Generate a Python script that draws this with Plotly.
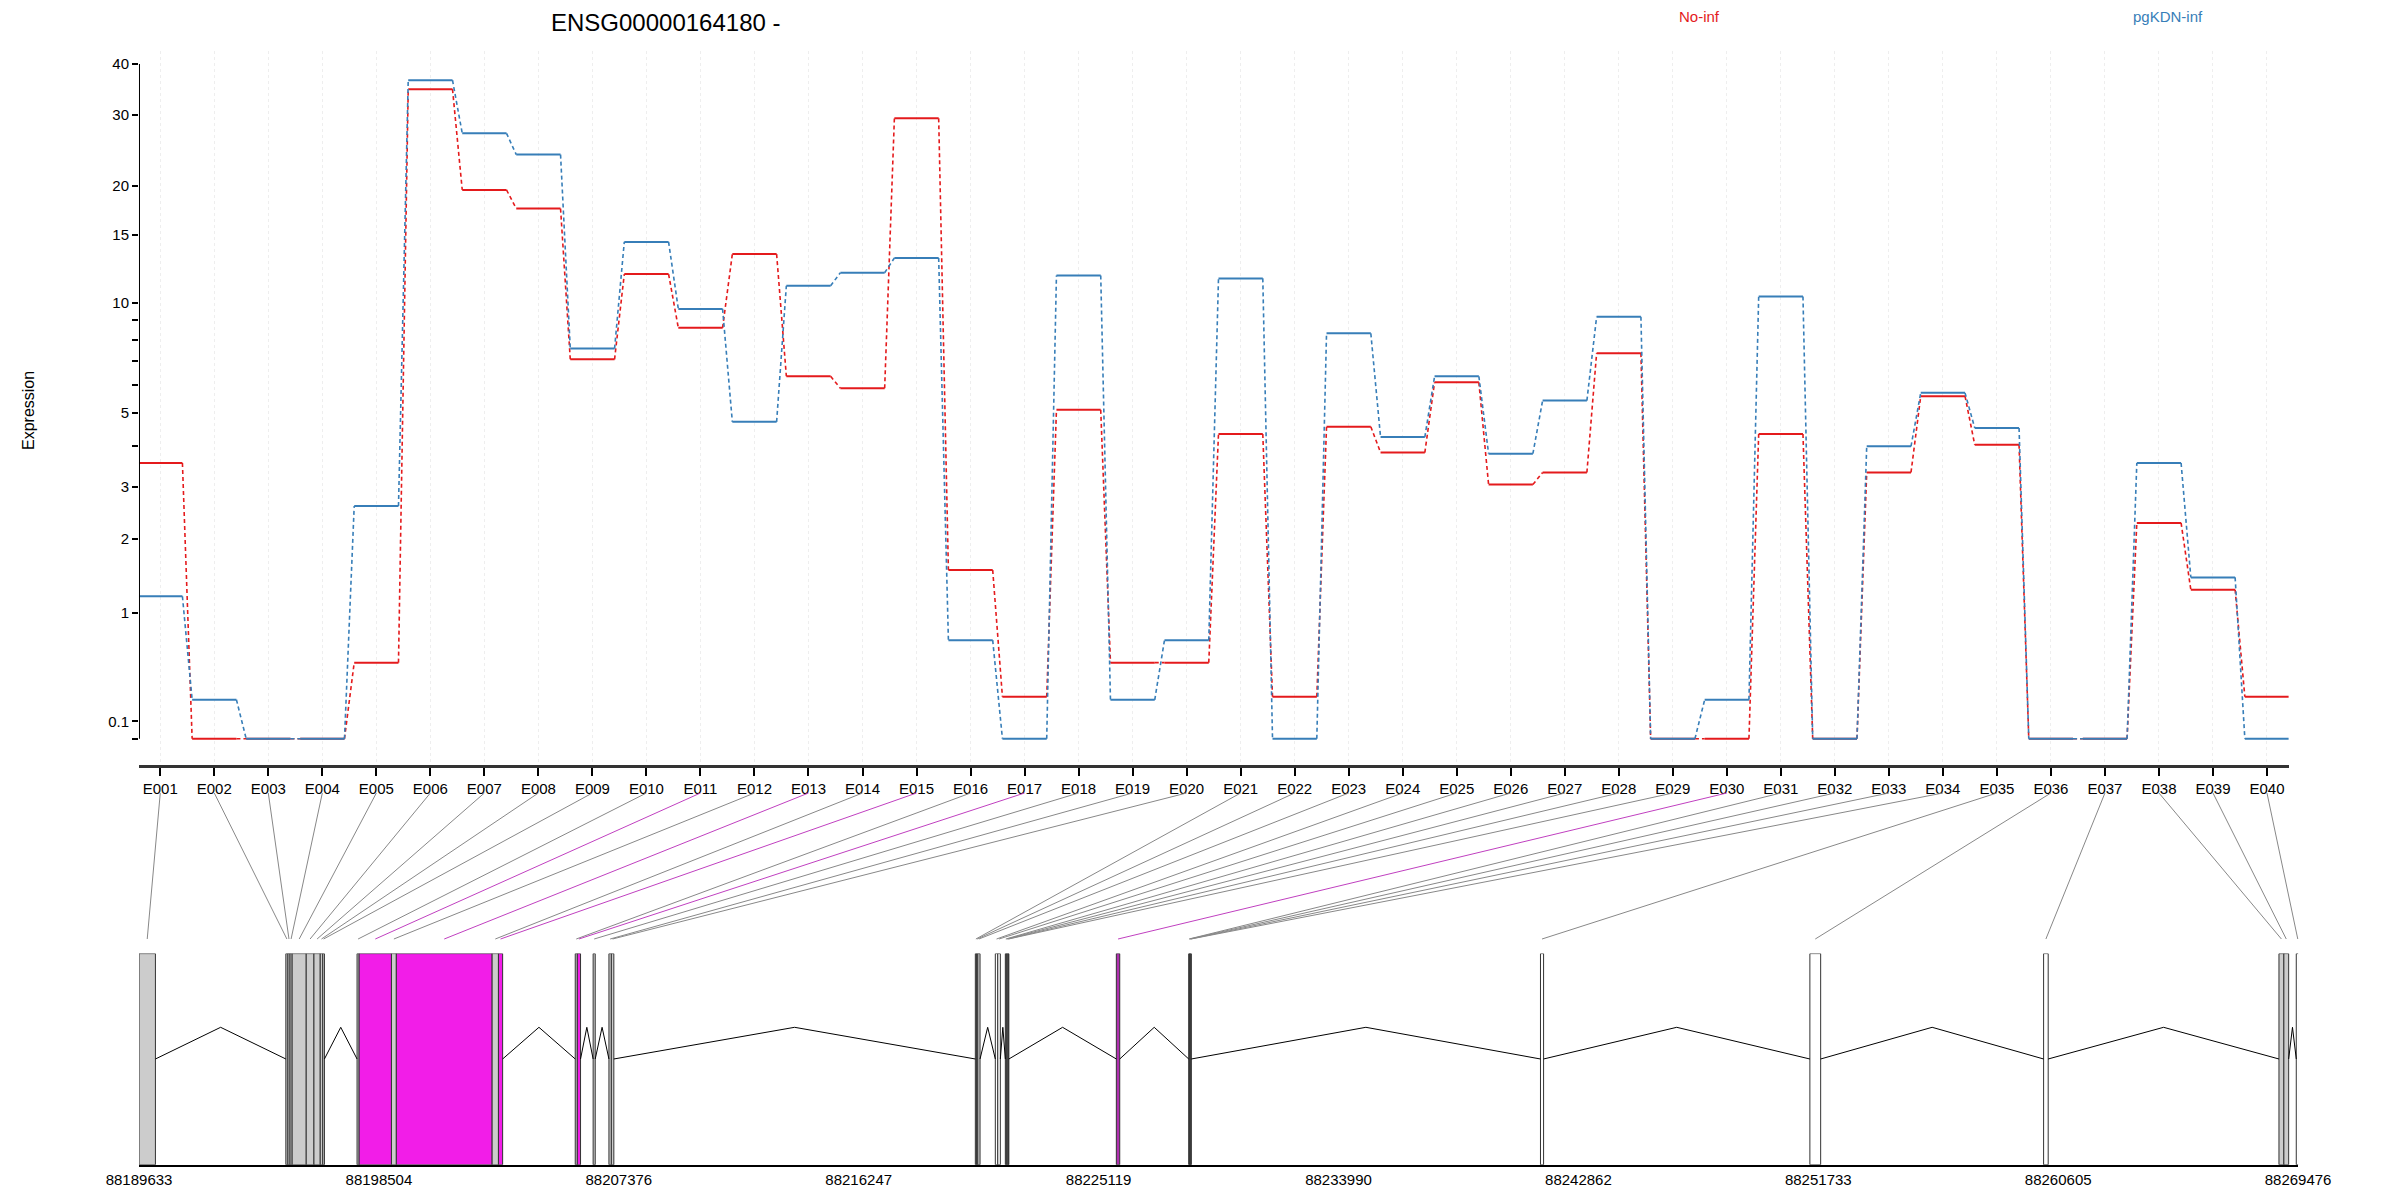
import numpy as np
import plotly.graph_objects as go

exons = [f"E{i:03d}" for i in range(1, 41)]
no_inf = [3.56, 0.0, 0.0, 0.0, 0.52, 34.7, 19.5, 17.5, 7.07, 11.9,
          8.6, 13.4, 6.35, 5.88, 29.4, 1.53, 0.26, 5.11, 0.52, 0.52,
          4.35, 0.26, 4.57, 3.83, 6.11, 3.05, 3.33, 7.35, 0.0, 0.0,
          4.35, 0.0, 3.33, 5.59, 4.04, 0.0, 0.0, 2.28, 1.27, 0.26]
pgkdn_inf = [1.19, 0.239, 0.0, 0.0, 2.60, 36.5, 27.0, 23.9, 7.56, 14.4,
             9.65, 4.72, 11.1, 12.0, 13.1, 0.72, 0.0, 11.8, 0.239, 0.72,
             11.6, 0.0, 8.31, 4.26, 6.35, 3.80, 5.43, 9.2, 0.0, 0.239,
             10.4, 0.0, 4.0, 5.71, 4.53, 0.0, 0.0, 3.56, 1.43, 0.0]
exon_start = [88189633, 88195062, 88195139, 88195217, 88195295, 88195816, 88196101, 88196334, 88196426, 88197695,
              88197772, 88198967, 88199148, 88202691, 88202924, 88205764, 88205841, 88206426, 88207010, 88207100,
              88220560, 88220600, 88220650, 88221299, 88221390, 88221669, 88221705, 88221740, 88221780, 88225774,
              88228451, 88228475, 88228500, 88228525, 88241459, 88251422, 88260065, 88268769, 88268950, 88269409]
exon_end = [88190239, 88195139, 88195217, 88195295, 88195816, 88196101, 88196334, 88196426, 88196489, 88197772,
            88198967, 88199148, 88202691, 88202924, 88203079, 88205841, 88205960, 88206503, 88207100, 88207191,
            88220600, 88220650, 88220734, 88221390, 88221484, 88221705, 88221740, 88221780, 88221800, 88225900,
            88228475, 88228500, 88228525, 88228547, 88241574, 88251821, 88260235, 88268950, 88269128, 88269520]
exon_fill = ["#CCCCCC"] * 40
for i in [10, 12, 14, 16]:
    exon_fill[i] = "#F21DE8"
exon_fill[29] = "#B030B0"
for i in [23, 24, 34, 35, 36, 39]:
    exon_fill[i] = "#FFFFFF"
gene_ticks = [88189633, 88198504, 88207376, 88216247, 88225119, 88233990, 88242862, 88251733, 88260605, 88269476]
y_ticks = [0, 0.1, 1, 2, 3, 4, 5, 6, 7, 8, 9, 10, 15, 20, 30, 40]
y_ticktext = ["", "0.1", "1", "2", "3", "", "5", "", "", "", "", "10", "15", "20", "30", "40"]
series = [("No-inf", no_inf, "#E41A1C"), ("pgKDN-inf", pgkdn_inf, "#377EB8")]

W, H = 2400, 1200
XD = [0.05458, 0.95025]
XR = [0.606, 40.4]
GX = [0.0546, 0.9542]
GR = [gene_ticks[0], gene_ticks[-1]]

fig = go.Figure()
idx = np.arange(1, 41)
hw = 0.41
for name, vals, col in series:
    t = np.log10(np.array(vals) + 1)
    sx, sy, dx, dy = [], [], [], []
    for k in range(40):
        sx += [idx[k] - hw, idx[k] + hw, None]
        sy += [t[k], t[k], None]
        if k < 39:
            dx += [idx[k] + hw, idx[k + 1] - hw, None]
            dy += [t[k], t[k + 1], None]
    fig.add_trace(go.Scatter(x=dx, y=dy, mode="lines", line=dict(color=col, width=1.6, dash="4px,3px"),
                             showlegend=False, hoverinfo="skip"))
    fig.add_trace(go.Scatter(x=sx, y=sy, mode="lines", line=dict(color=col, width=2),
                             showlegend=False, hoverinfo="skip"))

shapes = []
for k in range(40):
    shapes.append(dict(type="rect", xref="x2", yref="y2", x0=exon_start[k], x1=exon_end[k], y0=0, y1=1,
                       fillcolor=exon_fill[k], line=dict(color="#333333", width=1)))
for k in range(39):
    a, b = exon_end[k], exon_start[k + 1]
    if b > a:
        m = (a + b) / 2
        shapes.append(dict(type="path", xref="x2", yref="y2",
                           path=f"M {a},0.501 L {m},0.651 L {b},0.501", line=dict(color="black", width=1)))
for k in range(40):
    xt = XD[0] + (idx[k] - XR[0]) / (XR[1] - XR[0]) * (XD[1] - XD[0])
    gm = (exon_start[k] + exon_end[k]) / 2
    xb = GX[0] + (gm - GR[0]) / (GR[1] - GR[0]) * (GX[1] - GX[0])
    col = "#C040C0" if exon_fill[k] in ("#F21DE8", "#B030B0") else "#888888"
    shapes.append(dict(type="line", xref="paper", yref="paper", x0=xt, y0=1 - 785 / H, x1=xb, y1=1 - 931 / H,
                       line=dict(color=col, width=1)))
shapes.append(dict(type="line", xref="x", yref="y", x0=XR[0], x1=XR[0], y0=0, y1=np.log10(41),
                   line=dict(color="black", width=2)))
fig.update_layout(shapes=shapes)

fig.update_layout(
    width=W, height=H, margin=dict(l=0, r=0, t=0, b=0, autoexpand=False),
    plot_bgcolor="white", paper_bgcolor="white",
    font=dict(family="Liberation Sans, Arial", size=16, color="black"),
    xaxis=dict(domain=XD, range=XR, tickvals=list(idx), ticktext=exons, showgrid=True, automargin=False,
               gridcolor="#EEEEEE", griddash="dot", gridwidth=1, zeroline=False,
               showline=True, linecolor="#333333", linewidth=3, ticks="outside", ticklen=8,
               tickwidth=2, tickcolor="black", tickfont=dict(size=15)),
    yaxis=dict(domain=[0.3694, 0.9642], range=[-0.0622, 1.644], tickvals=list(np.log10(np.array(y_ticks) + 1)),
               ticktext=y_ticktext, showgrid=False, zeroline=False, showline=False, automargin=False,
               ticks="outside", ticklen=6, tickwidth=2, tickcolor="black", tickfont=dict(size=15)),
    xaxis2=dict(domain=GX, range=GR, anchor="y2", tickvals=gene_ticks, ticktext=[str(v) for v in gene_ticks],
                showgrid=False, zeroline=False, showline=True, linecolor="black", linewidth=2, automargin=False,
                ticks="", tickfont=dict(size=15)),
    yaxis2=dict(domain=[0.036, 0.212], range=[0, 1], anchor="x2", visible=False, automargin=False),
)
fig.add_annotation(text="ENSG00000164180 -", xref="paper", yref="paper", x=658 / W, y=1 - 15 / H,
                   showarrow=False, font=dict(size=24), xanchor="center", yanchor="middle")
fig.add_annotation(text="No-inf", xref="paper", yref="paper", x=1691 / W, y=1 - 9 / H,
                   showarrow=False, font=dict(size=15, color="#E41A1C"), xanchor="center", yanchor="middle")
fig.add_annotation(text="pgKDN-inf", xref="paper", yref="paper", x=2160 / W, y=1 - 9 / H,
                   showarrow=False, font=dict(size=15, color="#377EB8"), xanchor="center", yanchor="middle")
fig.add_annotation(text="Expression", xref="paper", yref="paper", x=20 / W, y=1 - 403 / H, textangle=-90,
                   showarrow=False, font=dict(size=16), xanchor="center", yanchor="middle")
fig.write_html("out.html")
